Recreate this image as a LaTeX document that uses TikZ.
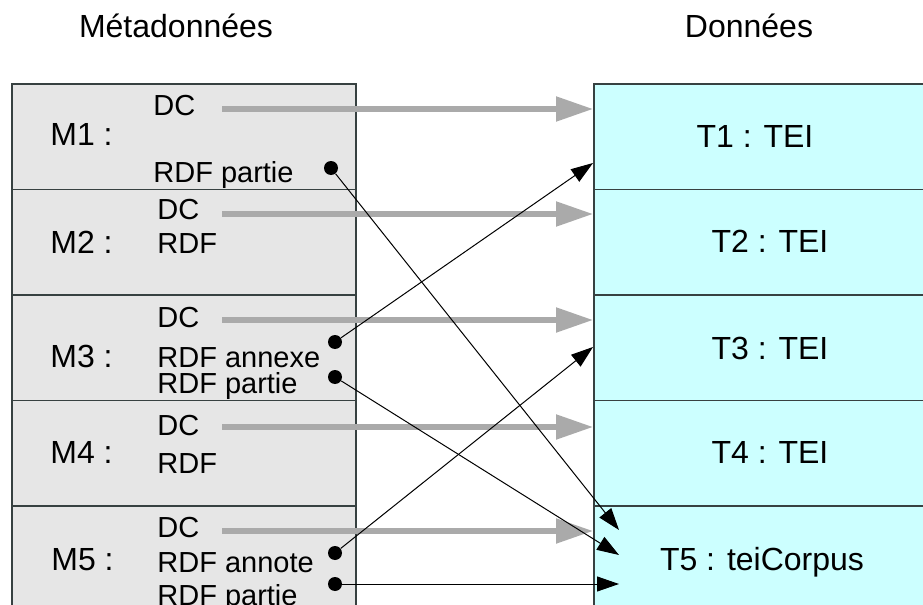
\documentclass[tikz,border=0pt]{standalone}
\usepackage{fontspec}
\setmainfont{Liberation Sans}
\usetikzlibrary{arrows.meta}
\definecolor{metagray}{RGB}{230,230,230}
\definecolor{datacyan}{RGB}{204,255,255}
\definecolor{dcgray}{RGB}{170,170,170}
\definecolor{rowline}{RGB}{55,65,65}

\begin{document}
\begin{tikzpicture}[x=0.5pt,y=-0.5pt,
  metarow/.style={draw=rowline, line width=0.8pt, fill=metagray, anchor=north west, inner sep=0pt, minimum width=172pt, minimum height=52.75pt},
  datarow/.style={draw=rowline, line width=0.8pt, fill=datacyan, anchor=north west, inner sep=0pt, minimum width=200pt, minimum height=52.75pt},
  title/.style={anchor=base, font=\fontsize{16}{18}\selectfont},
  mlabel/.style={anchor=base west, inner sep=0pt, font=\fontsize{16}{18}\selectfont},
  tlabel/.style={anchor=base, inner sep=0pt, font=\fontsize{16}{18}\selectfont},
  rdflabel/.style={anchor=base west, inner sep=0pt, font=\fontsize{14.5}{16}\selectfont},
  dot/.style={circle, fill=black, inner sep=0pt, minimum size=7pt},
  dcarrow/.style={draw=dcgray, line width=2.6pt, -{Triangle[length=18.5pt,width=12pt]}},
  link/.style={line width=0.5pt, -{Triangle[length=11pt,width=7.5pt]}}]
\useasboundingbox (0,0) rectangle (923,605);
\clip (0,0) rectangle (923,605);

\node (meta) at (176,38) [title] {Métadonnées};
\node (data) at (749,38) [title] {Données};

\node (M1) at (11,83) [metarow] {};
\node (M2) at (11,188.5) [metarow] {};
\node (M3) at (11,294) [metarow] {};
\node (M4) at (11,399.5) [metarow] {};
\node (M5) at (11,505) [metarow] {};

\node (T1) at (593,83) [datarow] {};
\node (T2) at (593,188.5) [datarow] {};
\node (T3) at (593,294) [datarow] {};
\node (T4) at (593,399.5) [datarow] {};
\node (T5) at (593,505) [datarow] {};

\node (m1) at (50,145) [mlabel] {M1 :};
\node (m2) at (50,253) [mlabel] {M2 :};
\node (m3) at (50,367) [mlabel] {M3 :};
\node (m4) at (50,463) [mlabel] {M4 :};
\node (m5) at (51,570) [mlabel] {M5 :};

\node (dc1) at (153,115) [rdflabel] {DC};
\node (rdf1) at (153,182) [rdflabel] {RDF partie};
\node (dc2) at (157,220) [rdflabel] {DC};
\node (rdf2) at (157,253) [rdflabel] {RDF};
\node (dc3) at (157,327) [rdflabel] {DC};
\node (rdf3a) at (157,367) [rdflabel] {RDF annexe};
\node (rdf3b) at (157,393) [rdflabel] {RDF partie};
\node (dc4) at (157,435) [rdflabel] {DC};
\node (rdf4) at (157,473) [rdflabel] {RDF};
\node (dc5) at (157,537) [rdflabel] {DC};
\node (rdf5a) at (157,572) [rdflabel] {RDF annote};
\node (rdf5b) at (157,605) [rdflabel] {RDF partie};

\node (t1) at (755,148) [tlabel] {T1 : TEI};
\node (t2) at (770,252) [tlabel] {T2 : TEI};
\node (t3) at (770,359) [tlabel] {T3 : TEI};
\node (t4) at (770,463) [tlabel] {T4 : TEI};
\node (t5) at (762,570) [tlabel] {T5 : teiCorpus};

\coordinate (s1) at (222,109);
\coordinate (s2) at (222,214);
\coordinate (s3) at (222,320);
\coordinate (s4) at (222,427);
\coordinate (s5) at (222,531);

\draw [dcarrow] (s1) -- (s1 -| T1.west);
\draw [dcarrow] (s2) -- (s2 -| T2.west);
\draw [dcarrow] (s3) -- (s3 -| T3.west);
\draw [dcarrow] (s4) -- (s4 -| T4.west);
\draw [dcarrow] (s5) -- (s5 -| T5.west);

\node (p1) at (331,168) [dot] {};
\node (p2) at (335,342) [dot] {};
\node (p3) at (335,377) [dot] {};
\node (p4) at (335,553) [dot] {};
\node (p5) at (335,584) [dot] {};

\coordinate (e1) at (619,530);
\coordinate (e2) at (593,163);
\coordinate (e3) at (619,555);
\coordinate (e4) at (593,347);
\coordinate (e5) at (619,584);

\draw [link] (p1) -- (e1);
\draw [link] (p2) -- (e2);
\draw [link] (p3) -- (e3);
\draw [link] (p4) -- (e4);
\draw [link] (p5) -- (e5);
\end{tikzpicture}
\end{document}
